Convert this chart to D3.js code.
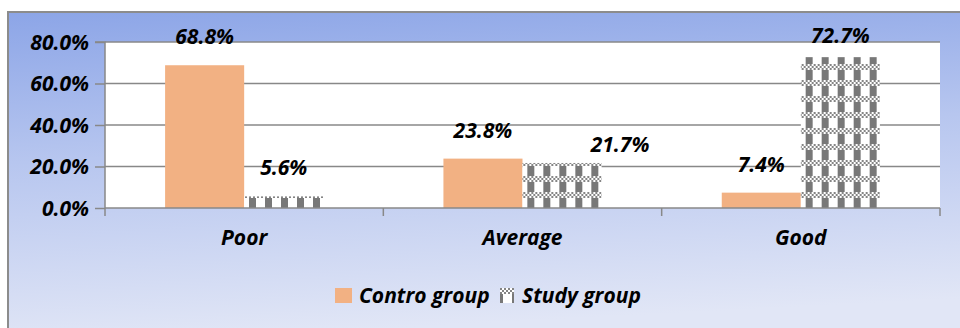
<!DOCTYPE html>
<html><head><meta charset="utf-8">
<script src="https://cdn.jsdelivr.net/npm/d3@7"></script>
<style>
html,body{margin:0;padding:0;background:#fff;}
svg{display:block;}
text{font-family:"Open Sans",Lato,sans-serif;font-weight:bold;font-style:italic;fill:#000;}
</style></head>
<body>
<svg id="chart" width="960" height="328"></svg>
<script>
const categories = ["Poor", "Average", "Good"];
const seriesNames = ["Contro group", "Study group"];
const controValues = [68.8, 23.8, 7.4];
const studyValues = [5.6, 21.7, 72.7];
const yTicks = [0, 20, 40, 60, 80];
// manual label nudges [dx, dy] per series/category (as moved in the original)
const controNudge = [[0,0],[0,0],[0,0]];
const studyNudge = [[0,0],[58,10],[0,0]];

const svg = d3.select("#chart");
const W = 960, H = 328;
const plot = {left:105, right:940, top:42, bottom:208};
const FS = 21;

const defs = svg.append("defs");
const grad = defs.append("linearGradient").attr("id","bg").attr("x1",0).attr("y1",0).attr("x2",0.15).attr("y2",1);
grad.append("stop").attr("offset","0%").attr("stop-color","#8ca5e7");
grad.append("stop").attr("offset","45%").attr("stop-color","#b7c6ef");
grad.append("stop").attr("offset","100%").attr("stop-color","#e1e6f6");

const pat = defs.append("pattern").attr("id","check").attr("patternUnits","userSpaceOnUse")
  .attr("width",16).attr("height",16).attr("x",0).attr("y",0);
pat.append("rect").attr("width",16).attr("height",16).attr("fill","#ffffff");
for (let i=0;i<8;i++){
  for (let j=0;j<3;j++){
    if ((i+j)%2===0) pat.append("rect").attr("x",i*2).attr("y",j*2).attr("width",2).attr("height",2).attr("fill","#858585");
  }
}
pat.append("rect").attr("x",0).attr("y",6).attr("width",7).attr("height",10).attr("fill","#787878");

// background
svg.append("rect").attr("x",8).attr("y",12).attr("width",W).attr("height",H)
  .attr("fill","url(#bg)").attr("stroke","#8c8c8c").attr("stroke-width",2);

const y = d3.scaleLinear().domain([0,80]).range([plot.bottom, plot.top]);
const x0 = d3.scaleBand().domain(categories).range([plot.left, plot.right]).padding(0);
const x1 = d3.scaleBand().domain(seriesNames).range([0, x0.bandwidth()]).paddingInner(0).paddingOuter(0.76);

svg.append("rect").attr("x",plot.left).attr("y",plot.top).attr("width",plot.right-plot.left)
  .attr("height",plot.bottom-plot.top).attr("fill","#fff");

// gridlines
svg.append("g").selectAll("line").data(yTicks.filter(d=>d>0)).join("line")
  .attr("x1",plot.left).attr("x2",plot.right).attr("y1",d=>y(d)).attr("y2",d=>y(d))
  .attr("stroke","#888").attr("stroke-width",1.5);

const data = categories.map((c,i)=>({cat:c, vals:[
  {s:seriesNames[0], v:controValues[i], n:controNudge[i]},
  {s:seriesNames[1], v:studyValues[i], n:studyNudge[i]}]}));

const fills = {"Contro group":"#f2b183","Study group":"url(#check)"};

const groups = svg.append("g").selectAll("g").data(data).join("g")
  .attr("transform",d=>`translate(${x0(d.cat)},0)`);
groups.selectAll("rect").data(d=>d.vals).join("rect")
  .attr("x",d=>x1(d.s)).attr("width",x1.bandwidth())
  .attr("y",d=>y(d.v)).attr("height",d=>y(0)-y(d.v))
  .attr("fill",d=>fills[d.s]);
groups.selectAll("text").data(d=>d.vals).join("text")
  .attr("x",d=>x1(d.s)+x1.bandwidth()/2+d.n[0])
  .attr("y",d=>Math.max(y(d.v)-21, plot.top+1)+d.n[1])
  .attr("text-anchor","middle").attr("font-size",FS)
  .text(d=>d.v.toFixed(1)+"%");

// axes
const yAxis = d3.axisLeft(y).tickValues(yTicks).tickSize(10).tickFormat(d=>d.toFixed(1)+"%");
const gy = svg.append("g").attr("transform",`translate(${plot.left},0)`).call(yAxis);
gy.select(".domain").attr("stroke","#888").attr("stroke-width",1.5).attr("d",`M-10,${plot.top}H0V${plot.bottom}`);
gy.selectAll(".tick line").attr("stroke","#888").attr("stroke-width",1.5);
gy.selectAll(".tick text").attr("font-size",FS).attr("x",-16).attr("dy","0.35em")
  .style("font-family","'Open Sans',sans-serif").style("font-weight","bold").style("font-style","italic").attr("fill","#000");

svg.append("line").attr("x1",plot.left).attr("x2",plot.right).attr("y1",plot.bottom).attr("y2",plot.bottom)
  .attr("stroke","#888").attr("stroke-width",1.5);
const bounds = categories.map(c=>x0(c)).concat([plot.right]);
svg.append("g").selectAll("line").data(bounds).join("line")
  .attr("x1",d=>d).attr("x2",d=>d).attr("y1",plot.bottom).attr("y2",plot.bottom+8)
  .attr("stroke","#888").attr("stroke-width",1.5);
svg.append("g").selectAll("text").data(categories).join("text")
  .attr("x",d=>x0(d)+x0.bandwidth()/2).attr("y",245)
  .attr("text-anchor","middle").attr("font-size",FS).text(d=>d);

// legend
const leg = svg.append("g");
const legItems = [{s:seriesNames[0], x:335, tx:359},{s:seriesNames[1], x:500, tx:522}];
leg.selectAll("rect").data(legItems).join("rect")
  .attr("x",d=>d.x).attr("y",288).attr("width",d=>d.s===seriesNames[0]?17:14).attr("height",15)
  .attr("fill",d=>fills[d.s]);
leg.selectAll("text").data(legItems).join("text")
  .attr("x",d=>d.tx).attr("y",303).attr("font-size",FS).text(d=>d.s);
</script>
</body></html>
